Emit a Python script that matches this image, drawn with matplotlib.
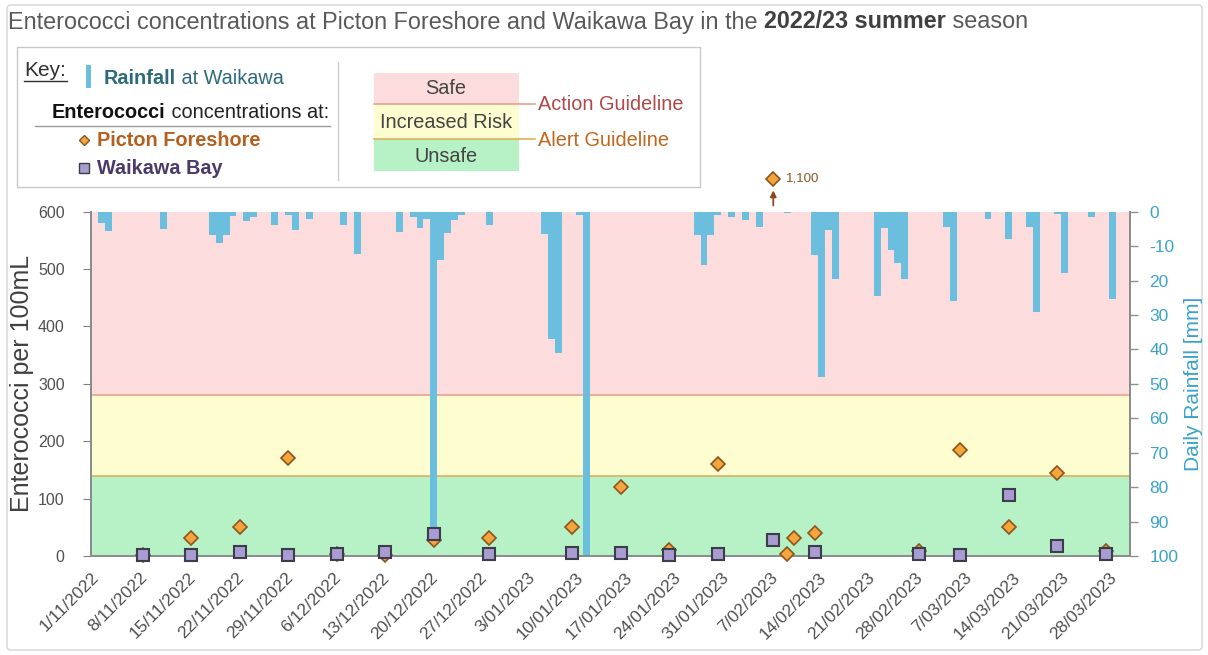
import matplotlib
matplotlib.use("Agg")
import matplotlib.pyplot as plt
import matplotlib.dates as mdates
from matplotlib.transforms import Affine2D, blended_transform_factory
from matplotlib.patches import Rectangle, FancyBboxPatch
from matplotlib.lines import Line2D
import pandas as pd

# ---------------- data ----------------
rain_dates = ['2022-11-02', '2022-11-03', '2022-11-11', '2022-11-18', '2022-11-19', '2022-11-20',
              '2022-11-21', '2022-11-23', '2022-11-24', '2022-11-27', '2022-11-29', '2022-11-30',
              '2022-12-02', '2022-12-07', '2022-12-09', '2022-12-15', '2022-12-17', '2022-12-18',
              '2022-12-19', '2022-12-20', '2022-12-21', '2022-12-22', '2022-12-23', '2022-12-24',
              '2022-12-28', '2023-01-05', '2023-01-06', '2023-01-07', '2023-01-10', '2023-01-11',
              '2023-01-27', '2023-01-28', '2023-01-29', '2023-01-30', '2023-02-01', '2023-02-03',
              '2023-02-05', '2023-02-09', '2023-02-13', '2023-02-14', '2023-02-15', '2023-02-16',
              '2023-02-22', '2023-02-23', '2023-02-24', '2023-02-25', '2023-02-26', '2023-03-04',
              '2023-03-05', '2023-03-10', '2023-03-13', '2023-03-16', '2023-03-17', '2023-03-20',
              '2023-03-21', '2023-03-25', '2023-03-28']
rain_mm = [3.4, 5.5, 5.0, 6.8, 9.2, 6.8,
           1.2, 2.6, 1.4, 4.0, 1.0, 5.3,
           2.0, 4.0, 12.4, 6.0, 1.4, 4.8,
           2.0, 92.0, 14.0, 6.2, 2.4, 1.0,
           4.0, 6.5, 37.0, 41.0, 1.0, 104.0,
           6.8, 15.5, 6.8, 1.0, 1.6, 2.4,
           4.3, 0.4, 12.6, 48.0, 5.3, 19.5,
           24.6, 4.8, 11.1, 15.0, 19.5, 4.3,
           26.0, 2.0, 8.0, 4.3, 29.0, 0.8,
           17.9, 1.6, 25.4]

picton_dates = ['2022-11-08', '2022-11-15', '2022-11-22', '2022-11-29', '2022-12-06', '2022-12-13',
                '2022-12-20', '2022-12-28', '2023-01-09', '2023-01-16', '2023-01-23', '2023-01-30',
                '2023-02-07', '2023-02-09', '2023-02-10', '2023-02-13', '2023-02-28', '2023-03-06',
                '2023-03-13', '2023-03-20', '2023-03-27']
picton_vals = [2, 31, 51, 171, 4, 1,
               28, 31, 50, 121, 10, 161,
               1100, 4, 31, 40, 8, 185,
               51, 144, 8]

waikawa_dates = ['2022-11-08', '2022-11-15', '2022-11-22', '2022-11-29', '2022-12-06', '2022-12-13',
                 '2022-12-20', '2022-12-28', '2023-01-09', '2023-01-16', '2023-01-23', '2023-01-30',
                 '2023-02-07', '2023-02-13', '2023-02-28', '2023-03-06', '2023-03-13', '2023-03-20',
                 '2023-03-27']
waikawa_vals = [2, 2, 7, 2, 3, 7,
                39, 3, 6, 6, 2, 3,
                28, 7, 3, 2, 106, 18,
                3]

alert_guideline = 140
action_guideline = 280
y_max = 600
rain_max = 100
rain_tick_labels = ['0', '-10', '20', '30', '40', '50', '60', '70', '80', '90', '100']
x_start, x_end = '2022-11-01', '2023-03-31'

# ---------------- style ----------------
W, H = 1208, 655
plt.rcParams['font.family'] = ['Liberation Sans', 'DejaVu Sans']
PINK, YELLOW, GREEN = '#fcdcdc', '#fdfdcf', '#b7f2c7'
RAIN = '#6cbedf'
GREY_TXT = '#505050'
KEY_FS = 14.3

fig = plt.figure(figsize=(W / 100, H / 100), dpi=100)
px = Affine2D().scale(1 / W, -1 / H).translate(0, 1) + fig.transFigure

# outer frame
fig.add_artist(FancyBboxPatch((7, 5), 1195, 645, boxstyle='round,pad=0,rounding_size=4',
                              transform=px, fc='none', ec='#d4d4d4', lw=1))

ax = fig.add_axes([91 / W, 1 - 556 / H, (1130 - 91) / W, (556 - 211.7) / H])
ax2 = ax.twinx()
ax2.set_zorder(1)
ax.set_zorder(2)
ax.patch.set_visible(False)

x0 = mdates.date2num(pd.Timestamp(x_start))
x1 = mdates.date2num(pd.Timestamp(x_end))
ax.set_xlim(x0, x1)
ax.set_ylim(0, y_max)
ax2.set_ylim(rain_max, 0)

# bands (drawn on the lowest axes, in enterococci units)
band_tr = blended_transform_factory(ax2.transAxes, ax.transData)
for lo, hi, c in [(0, alert_guideline, GREEN), (alert_guideline, action_guideline, YELLOW),
                  (action_guideline, y_max, PINK)]:
    ax2.add_patch(Rectangle((0, lo), 1, hi - lo, transform=band_tr, fc=c, ec='none', zorder=0))
ax2.add_line(Line2D([0, 1], [alert_guideline] * 2, transform=band_tr, color='#dcb060', lw=1.2, zorder=0.6))
ax2.add_line(Line2D([0, 1], [action_guideline] * 2, transform=band_tr, color='#e8a090', lw=1.2, zorder=0.6))

# weekly ticks + grid
week_ticks = pd.date_range('2022-11-01', '2023-03-28', freq='7D')
ax.set_xticks(mdates.date2num(week_ticks))
ax.set_xticklabels([f"{d.day}/{d.month:02d}/{d.year}" for d in week_ticks],
                   rotation=45, ha='right', rotation_mode='anchor', fontsize=12.5, color=GREY_TXT)
ax.tick_params(axis='x', length=0, pad=10)
ax2.grid(True, axis='x', color='#bdb5ad', lw=1, zorder=0.5)
ax2.set_axisbelow(True)

# rainfall bars
rd = mdates.date2num(pd.to_datetime(rain_dates))
ax2.bar(rd, rain_mm, width=1, align='edge', color=RAIN, zorder=2, lw=0)
ax2.set_yticks(range(0, rain_max + 1, 10))
ax2.set_yticklabels(rain_tick_labels)
ax2.tick_params(axis='y', colors='#3aa3c9', labelsize=12.5, length=6, width=1, pad=8)
ax2.tick_params(axis='y', color='#909090')
ax2.set_ylabel('Daily Rainfall [mm]', color='#3aa3c9', fontsize=15, labelpad=4)

# enterococci markers
half_day = pd.Timedelta(hours=12)
pdts = mdates.date2num(pd.to_datetime(picton_dates) + half_day)
wdts = mdates.date2num(pd.to_datetime(waikawa_dates) + half_day)
p_in = [(x, v) for x, v in zip(pdts, picton_vals) if v <= y_max]
p_out = [(x, v) for x, v in zip(pdts, picton_vals) if v > y_max]
ax.plot([p[0] for p in p_in], [p[1] for p in p_in], ls='none', marker='D', ms=7.2,
        mfc='#f5a53c', mec='#8a5520', mew=1.2, zorder=5, clip_on=False)
ax.plot(wdts, waikawa_vals, ls='none', marker='s', ms=8.8,
        mfc='#a99cd2', mec='#3c3c4a', mew=1.5, zorder=6, clip_on=False)
out_tr = blended_transform_factory(ax.transData, ax.transAxes)
for x, v in p_out:
    ax.plot([x], [1.095], transform=out_tr, ls='none', marker='D', ms=7.2,
            mfc='#f5a53c', mec='#8a5520', mew=1.2, zorder=5, clip_on=False)
    ax.annotate(f"{v:,}", xy=(x, 1.095), xycoords=out_tr, xytext=(9, 0), textcoords='offset points',
                va='center', ha='left', fontsize=9.5, color='#8a5520', annotation_clip=False)
    ax.annotate('', xy=(x, 1.07), xycoords=out_tr, xytext=(x, 1.01), textcoords=out_tr,
                arrowprops=dict(arrowstyle='-|>', color='#8a4a20', lw=1.3, mutation_scale=9),
                annotation_clip=False)

ax.set_yticks(range(0, y_max + 1, 100))
ax.tick_params(axis='y', colors=GREY_TXT, labelsize=11.5, length=6, pad=13)
ax.tick_params(axis='y', color='#808080')
ax.set_ylabel('Enterococci per 100mL', color='#404040', fontsize=18)
ax.yaxis.set_label_coords(-0.055, 0.5)

for a in (ax, ax2):
    a.spines['top'].set_visible(False)
    for s in ('left', 'right', 'bottom'):
        a.spines[s].set_color('#8a8a8a')
        a.spines[s].set_linewidth(1.2)

# ---------------- title ----------------
t1 = fig.text(8, 22, 'Enterococci concentrations at Picton Foreshore and Waikawa Bay in the ',
              transform=px, fontsize=16.8, color='#595959', va='center', ha='left')
t2 = ax.annotate('2022/23 summer', xy=(1, 0), xycoords=t1, va='bottom', ha='left',
                 fontsize=16.8, color='#404040', fontweight='bold', annotation_clip=False)
ax.annotate(' season', xy=(1, 0), xycoords=t2, va='bottom', ha='left',
            fontsize=16.8, color='#595959', annotation_clip=False)

# ---------------- key ----------------
fig.add_artist(Rectangle((17, 47), 683, 140, transform=px, fc='white', ec='#c8c8c8', lw=1))
fig.text(24, 70, 'Key:', transform=px, fontsize=15, color='#303030', va='center', ha='left')
fig.add_artist(Line2D([24, 67], [81, 81], transform=px, color='#303030', lw=1))
fig.add_artist(Rectangle((86, 65), 5, 23, transform=px, fc=RAIN, ec='none'))
k1 = fig.text(104, 78, 'Rainfall', transform=px, fontsize=KEY_FS, color='#2d6a7c',
              fontweight='bold', va='center', ha='left')
ax.annotate(' at Waikawa', xy=(1, 0), xycoords=k1, va='bottom', ha='left', fontsize=KEY_FS,
            color='#2d6a7c', annotation_clip=False)
k2 = fig.text(52, 113, 'Enterococci', transform=px, fontsize=KEY_FS, color='#111111',
              fontweight='bold', va='center', ha='left')
ax.annotate(' concentrations at:', xy=(1, 0), xycoords=k2, va='bottom', ha='left', fontsize=KEY_FS,
            color='#222222', annotation_clip=False)
fig.add_artist(Line2D([35, 330], [126, 126], transform=px, color='#9a9a9a', lw=1))
fig.add_artist(Line2D([84], [140], transform=px, ls='none', marker='D', ms=5,
                      mfc='#f5a53c', mec='#8a5520', mew=1))
fig.text(97, 140, 'Picton Foreshore', transform=px, fontsize=KEY_FS, color='#b5601f',
         fontweight='bold', va='center', ha='left')
fig.add_artist(Line2D([84], [168], transform=px, ls='none', marker='s', ms=7,
                      mfc='#a99cd2', mec='#3c3c4a', mew=1))
fig.text(97, 168, 'Waikawa Bay', transform=px, fontsize=KEY_FS, color='#4a3a6c',
         fontweight='bold', va='center', ha='left')
fig.add_artist(Line2D([338, 338], [62, 180], transform=px, color='#cccccc', lw=1))

fig.add_artist(Rectangle((374, 73), 145, 31, transform=px, fc=PINK, ec='none'))
fig.add_artist(Rectangle((374, 104), 145, 35, transform=px, fc=YELLOW, ec='none'))
fig.add_artist(Rectangle((374, 139), 145, 32, transform=px, fc=GREEN, ec='none'))
fig.text(446, 89, 'Safe', transform=px, fontsize=KEY_FS, color='#444444', va='center', ha='center')
fig.text(446, 123, 'Increased Risk', transform=px, fontsize=KEY_FS, color='#444444', va='center', ha='center')
fig.text(446, 156, 'Unsafe', transform=px, fontsize=KEY_FS, color='#444444', va='center', ha='center')
fig.add_artist(Line2D([374, 535], [104, 104], transform=px, color='#e8a090', lw=1.2))
fig.add_artist(Line2D([374, 535], [139, 139], transform=px, color='#dcb060', lw=1.2))
fig.text(538, 104, 'Action Guideline', transform=px, fontsize=KEY_FS, color='#b04848', va='center', ha='left')
fig.text(538, 141, 'Alert Guideline', transform=px, fontsize=KEY_FS, color='#c0661c', va='center', ha='left')

fig.savefig('out.png', dpi=100)
